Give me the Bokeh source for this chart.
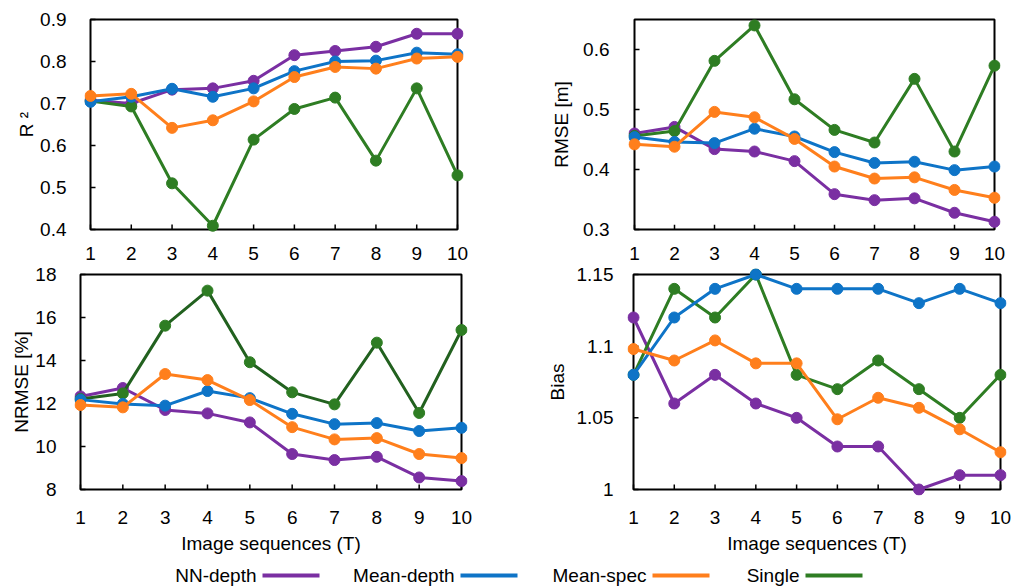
from bokeh.plotting import figure
from bokeh.layouts import column, row
from bokeh.models import Range1d, FixedTicker
from bokeh.embed import file_html
from bokeh.resources import INLINE
from bokeh.core.properties import value

# ---------------- data ----------------
seq = [1, 2, 3, 4, 5, 6, 7, 8, 9, 10]
series_names = ["NN-depth", "Mean-depth", "Mean-spec", "Single"]

r2_nn = [0.708, 0.700, 0.733, 0.736, 0.754, 0.815, 0.825, 0.835, 0.866, 0.866]
r2_md = [0.704, 0.716, 0.735, 0.716, 0.736, 0.777, 0.800, 0.802, 0.821, 0.817]
r2_ms = [0.718, 0.723, 0.642, 0.660, 0.705, 0.763, 0.787, 0.783, 0.807, 0.811]
r2_sg = [0.706, 0.693, 0.510, 0.409, 0.614, 0.687, 0.714, 0.564, 0.736, 0.529]

rmse_nn = [0.460, 0.471, 0.434, 0.430, 0.414, 0.359, 0.349, 0.352, 0.328, 0.313]
rmse_md = [0.454, 0.446, 0.444, 0.468, 0.455, 0.429, 0.411, 0.413, 0.399, 0.405]
rmse_ms = [0.442, 0.438, 0.496, 0.487, 0.451, 0.405, 0.385, 0.387, 0.366, 0.353]
rmse_sg = [0.456, 0.464, 0.581, 0.640, 0.517, 0.466, 0.445, 0.551, 0.430, 0.573]

nrmse_nn = [12.33, 12.72, 11.70, 11.54, 11.12, 9.65, 9.37, 9.52, 8.56, 8.39]
nrmse_md = [12.18, 11.98, 11.90, 12.58, 12.25, 11.52, 11.04, 11.09, 10.72, 10.87]
nrmse_ms = [11.93, 11.82, 13.37, 13.09, 12.16, 10.90, 10.33, 10.39, 9.65, 9.46]
nrmse_sg = [12.21, 12.47, 15.62, 17.25, 13.92, 12.52, 11.96, 14.83, 11.56, 15.42]

bias_nn = [1.12, 1.06, 1.08, 1.06, 1.05, 1.03, 1.03, 1.00, 1.01, 1.01]
bias_md = [1.08, 1.12, 1.14, 1.15, 1.14, 1.14, 1.14, 1.13, 1.14, 1.13]
bias_ms = [1.098, 1.090, 1.104, 1.088, 1.088, 1.049, 1.064, 1.057, 1.042, 1.026]
bias_sg = [1.08, 1.14, 1.12, 1.15, 1.08, 1.07, 1.09, 1.07, 1.05, 1.08]

r2_ticks = [0.4, 0.5, 0.6, 0.7, 0.8, 0.9]
r2_labels = ["0.4", "0.5", "0.6", "0.7", "0.8", "0.9"]
rmse_ticks = [0.3, 0.4, 0.5, 0.6]
rmse_labels = ["0.3", "0.4", "0.5", "0.6"]
nrmse_ticks = [8, 10, 12, 14, 16, 18]
nrmse_labels = ["8", "10", "12", "14", "16", "18"]
bias_ticks = [1.0, 1.05, 1.1, 1.15]
bias_labels = ["1", "1.05", "1.1", "1.15"]
x_labels = [str(v) for v in seq]

# ---------------- style ----------------
FONT = "Liberation Sans"
FS = "19px"
PURPLE = "#7A2FA2"
BLUE = "#0E74C7"
ORANGE = "#FF7F1C"
GREEN = "#2E7D23"
DKGREEN = "#22611F"
PAD = 6
ROW1_H = 263
ROW2_H = 297


def panel(fig_w, fig_h, origin, box, yrange, yticks, ylabels, ylabel, xlabel,
          series, ystand, ylab_stand, xstand, xlab_stand):
    ox, oy = origin
    bl, bt, br, bb = box
    fl, fr, ft, fb = bl - PAD, br + PAD, bt - PAD, bb + PAD
    ymin, ymax = yrange
    xppu = (br - bl) / (seq[-1] - seq[0])
    yppu = (bb - bt) / (ymax - ymin)
    p = figure(width=fig_w, height=fig_h, output_backend="svg", toolbar_location=None,
               x_range=Range1d(seq[0] - PAD / xppu, seq[-1] + PAD / xppu),
               y_range=Range1d(ymin - PAD / yppu, ymax + PAD / yppu),
               min_border_left=fl - ox, min_border_right=ox + fig_w - fr,
               min_border_top=ft - oy, min_border_bottom=oy + fig_h - fb)
    p.outline_line_color = None
    p.xgrid.grid_line_color = None
    p.ygrid.grid_line_color = None
    for ax in (p.xaxis[0], p.yaxis[0]):
        ax.axis_line_color = None
        ax.major_tick_line_color = None
        ax.minor_tick_line_color = None
        ax.major_label_text_font = FONT
        ax.major_label_text_font_size = FS
        ax.major_label_text_color = "black"
        ax.axis_label_text_font = FONT
        ax.axis_label_text_font_size = FS
        ax.axis_label_text_font_style = "normal"
        ax.axis_label_text_color = "black"
    p.xaxis.ticker = FixedTicker(ticks=seq)
    p.xaxis.major_label_overrides = dict(zip(seq, x_labels))
    p.xaxis.major_label_standoff = xstand
    if xlabel:
        p.xaxis.axis_label = xlabel
        p.xaxis.axis_label_standoff = xlab_stand
    p.yaxis.ticker = FixedTicker(ticks=yticks)
    p.yaxis.major_label_overrides = dict(zip(yticks, ylabels))
    p.yaxis.major_label_standoff = ystand
    p.yaxis.axis_label = ylabel
    p.yaxis.axis_label_standoff = ylab_stand

    # plot-area box
    p.quad(left=[seq[0]], right=[seq[-1]], bottom=[ymin], top=[ymax],
           fill_color=None, line_color="black", line_width=2)
    # inside tick marks
    p.segment(x0=[seq[0]] * len(yticks), x1=[seq[0] + 5 / xppu] * len(yticks),
              y0=yticks, y1=yticks, line_color="black", line_width=1.5)
    p.segment(x0=seq, x1=seq, y0=[ymin] * len(seq), y1=[ymin + 5 / yppu] * len(seq),
              line_color="black", line_width=1.5)
    for ys, lc, mc in series:
        p.line(seq, ys, line_color=lc, line_width=3)
        p.scatter(seq, ys, size=11, fill_color=mc, line_color=mc)
    return p


p_r2 = panel(520, ROW1_H, (0, 0), (90, 19, 457, 230), (0.4, 0.9), r2_ticks, r2_labels,
             "R \u00b2", None,
             [(r2_nn, PURPLE, PURPLE), (r2_sg, GREEN, GREEN), (r2_md, BLUE, BLUE), (r2_ms, ORANGE, ORANGE)],
             12, 0, 5, 0)
p_rmse = panel(502, ROW1_H, (520, 0), (634, 16, 994, 229), (0.3, 0.65), rmse_ticks, rmse_labels,
               "RMSE [m]", None,
               [(rmse_nn, PURPLE, PURPLE), (rmse_sg, GREEN, GREEN), (rmse_md, BLUE, BLUE), (rmse_ms, ORANGE, ORANGE)],
               13, 8, 5, 0)
p_nrmse = panel(520, ROW2_H, (0, ROW1_H), (80, 274, 461, 489), (8, 18), nrmse_ticks, nrmse_labels,
                "NRMSE [%]", "Image sequences (T)",
                [(nrmse_nn, PURPLE, PURPLE), (nrmse_sg, DKGREEN, GREEN), (nrmse_md, BLUE, BLUE), (nrmse_ms, ORANGE, ORANGE)],
                12, 0, 9, 6)
p_bias = panel(502, ROW2_H, (520, ROW1_H), (633, 274, 1000, 489), (1.0, 1.15), bias_ticks, bias_labels,
               "Bias", "Image sequences (T)",
               [(bias_nn, PURPLE, PURPLE), (bias_sg, GREEN, GREEN), (bias_md, BLUE, BLUE), (bias_ms, ORANGE, ORANGE)],
               8, 6, 9, 6)

# ---------------- legend ----------------
leg_colors = [PURPLE, BLUE, ORANGE, GREEN]
leg_line_x0 = [262, 460, 652, 805]
LEG_LEN = 57
LEG_H = 588 - ROW1_H - ROW2_H
leg = figure(width=1022, height=LEG_H, output_backend="svg", toolbar_location=None,
             x_range=Range1d(0, 1022), y_range=Range1d(LEG_H, 0), min_border=0,
             x_axis_location=None, y_axis_location=None)
leg.outline_line_color = None
leg.xgrid.grid_line_color = None
leg.ygrid.grid_line_color = None
leg_y = [575 - ROW1_H - ROW2_H] * 4
leg.text(x=[v - 6 for v in leg_line_x0], y=leg_y, text=series_names,
         text_align="right", text_baseline="middle", text_font=value(FONT),
         text_font_size=value(FS), text_color="black")
leg.segment(x0=leg_line_x0, x1=[v + LEG_LEN for v in leg_line_x0], y0=leg_y, y1=leg_y,
            line_color=leg_colors, line_width=4)

layout = column(row(p_r2, p_rmse), row(p_nrmse, p_bias), leg)
open("out.html", "w").write(file_html(layout, INLINE))
